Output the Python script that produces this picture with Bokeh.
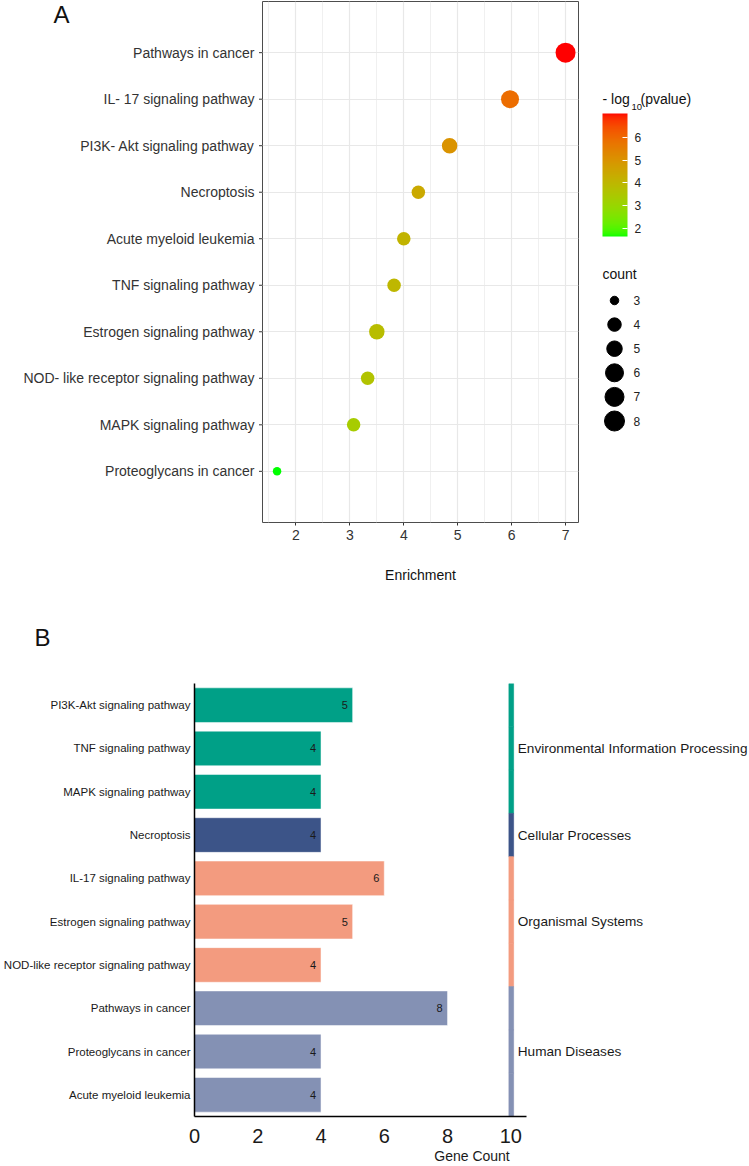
from bokeh.plotting import figure
from bokeh.models import (Range1d, FactorRange, FixedTicker, LinearColorMapper, ColorBar,
                          ColumnDataSource, CategoricalTicker)
from bokeh.transform import transform, factor_cmap, dodge
from bokeh.layouts import column, row
from bokeh.core.properties import value
from bokeh.embed import file_html
from bokeh.resources import INLINE

FONT = "Liberation Sans"

# ---------------- data: panel A ----------------
terms_A = ["Pathways in cancer", "IL- 17 signaling pathway", "PI3K- Akt signaling pathway",
           "Necroptosis", "Acute myeloid leukemia", "TNF signaling pathway",
           "Estrogen signaling pathway", "NOD- like receptor signaling pathway",
           "MAPK signaling pathway", "Proteoglycans in cancer"]
enrich_A = [7.0, 5.97, 4.85, 4.27, 4.0, 3.82, 3.5, 3.33, 3.07, 1.65]
logp_A = [7.04, 5.9, 5.0, 4.4, 4.1, 4.0, 3.8, 3.65, 3.35, 1.65]
count_A = [8, 6, 5, 4, 4, 4, 5, 4, 4, 3]
x_ticks_A = [2, 3, 4, 5, 6, 7]
cbar_ticks = [2, 3, 4, 5, 6]
count_levels = [3, 4, 5, 6, 7, 8]

# ---------------- data: panel B ----------------
terms_B = ["PI3K-Akt signaling pathway", "TNF signaling pathway", "MAPK signaling pathway",
           "Necroptosis", "IL-17 signaling pathway", "Estrogen signaling pathway",
           "NOD-like receptor signaling pathway", "Pathways in cancer",
           "Proteoglycans in cancer", "Acute myeloid leukemia"]
counts_B = [5, 4, 4, 4, 6, 5, 4, 8, 4, 4]
classes = ["Environmental Information Processing", "Cellular Processes",
           "Organismal Systems", "Human Diseases"]
class_B = [classes[0]] * 3 + [classes[1]] + [classes[2]] * 3 + [classes[3]] * 3
class_colors = ["#00A087", "#3C5488", "#F39B7F", "#8491B4"]
x_ticks_B = [0, 2, 4, 6, 8, 10]

# ---------------- styling helpers ----------------
SIZE_BY_COUNT = {3: 8.5, 4: 13.5, 5: 15.5, 6: 18.0, 7: 19.0, 8: 20.0}


def _to_lab(h):
    rgb = [int(h[i:i + 2], 16) / 255 for i in (1, 3, 5)]
    lin = [c / 12.92 if c <= 0.04045 else ((c + 0.055) / 1.055) ** 2.4 for c in rgb]
    R, G, B = lin
    X = (0.4124 * R + 0.3576 * G + 0.1805 * B) / 0.95047
    Y = (0.2126 * R + 0.7152 * G + 0.0722 * B)
    Z = (0.0193 * R + 0.1192 * G + 0.9505 * B) / 1.08883
    f = lambda t: t ** (1 / 3) if t > 0.008856 else 7.787 * t + 16 / 116
    fx, fy, fz = f(X), f(Y), f(Z)
    return (116 * fy - 16, 500 * (fx - fy), 200 * (fy - fz))


def _from_lab(L, a, b):
    fy = (L + 16) / 116
    fx = fy + a / 500
    fz = fy - b / 200
    finv = lambda t: t ** 3 if t ** 3 > 0.008856 else (t - 16 / 116) / 7.787
    X, Y, Z = finv(fx) * 0.95047, finv(fy), finv(fz) * 1.08883
    R = 3.2406 * X - 1.5372 * Y - 0.4986 * Z
    G = -0.9689 * X + 1.8758 * Y + 0.0415 * Z
    B = 0.0557 * X - 0.2040 * Y + 1.0570 * Z
    out = []
    for c in (R, G, B):
        c = max(0.0, min(1.0, c))
        c = 12.92 * c if c <= 0.0031308 else 1.055 * c ** (1 / 2.4) - 0.055
        out.append(int(round(max(0, min(1, c)) * 255)))
    return "#%02x%02x%02x" % tuple(out)


lo, hi = _to_lab("#00FF00"), _to_lab("#FF0000")
palette = [_from_lab(*[lo[k] + (hi[k] - lo[k]) * i / 255 for k in range(3)]) for i in range(256)]
mapper = LinearColorMapper(palette=palette, low=min(logp_A), high=max(logp_A))


def blank(p):
    p.grid.visible = False
    p.outline_line_color = None
    p.frame_align = False


# ---------------- panel A ----------------
PAD_A = 0.6
yA = FactorRange(factors=terms_A[::-1], range_padding=PAD_A, range_padding_units="absolute")

# left strip: category labels + tick marks (on the shared categorical scale), panel letter
pAL = figure(width=262, height=590, output_backend="svg", toolbar_location=None,
             x_range=Range1d(0, 262), y_range=yA,
             x_axis_location=None, y_axis_location=None,
             min_border_left=0, min_border_right=0, min_border_top=1, min_border_bottom=68)
blank(pAL)
pAL.text(x=[254] * len(terms_A), y=terms_A, text=terms_A, text_font=value(FONT),
         text_font_size="14px", text_align="right", text_baseline="middle",
         text_color="#333333")
pAL.segment(x0=[258.5] * len(terms_A), x1=[262] * len(terms_A), y0=terms_A, y1=terms_A,
            line_color="#333333", line_width=1)
# panel letter, just below the top of the padded categorical range
pAL.text(x=[61], y=[len(terms_A) + PAD_A - 0.27], text=["A"], text_font=value(FONT),
         text_font_size="24px", text_align="center", text_baseline="middle",
         text_color="#111111")

srcA = ColumnDataSource(dict(term=terms_A, enrich=enrich_A, logp=logp_A, count=count_A,
                             size=[SIZE_BY_COUNT[c] for c in count_A]))

pA = figure(width=328, height=590, output_backend="svg", toolbar_location=None,
            x_range=Range1d(1.38, 7.24), y_range=yA, y_axis_location=None,
            min_border_left=0, min_border_right=12, min_border_top=1, min_border_bottom=68)
pA.frame_align = False
pA.scatter(x="enrich", y="term", size="size", source=srcA, line_color=None,
           fill_color=transform("logp", mapper))

pA.xaxis.ticker = FixedTicker(ticks=x_ticks_A,
                              minor_ticks=[t + 0.5 for t in [1] + x_ticks_A[:-1]])
pA.xaxis.axis_label = "Enrichment"
ax = pA.xaxis
ax.axis_line_color = None
ax.major_tick_line_color = "#333333"
ax.major_tick_out = 3
ax.major_tick_in = 0
ax.minor_tick_line_color = None
ax.major_label_text_font = FONT
ax.major_label_text_font_size = "14px"
ax.major_label_text_color = "#333333"
ax.major_label_standoff = 3
ax.axis_label_text_font = FONT
ax.axis_label_text_font_size = "14px"
ax.axis_label_text_font_style = "normal"
ax.axis_label_text_color = "#111111"
ax.axis_label_standoff = 24
pA.xgrid.grid_line_color = "#E8E8E8"
pA.xgrid.grid_line_width = 1.2
pA.xgrid.minor_grid_line_color = "#EEEEEE"
pA.xgrid.minor_grid_line_width = 0.9
pA.ygrid.ticker = CategoricalTicker()
pA.ygrid.grid_line_color = "#E8E8E8"
pA.ygrid.grid_line_width = 1.2
pA.outline_line_color = "#4D4D4D"
pA.outline_line_width = 1

# ---------------- panel A legend ----------------
pL = figure(width=159, height=590, output_backend="svg", toolbar_location=None,
            x_range=Range1d(590, 749), y_range=Range1d(590, 0),
            x_axis_location=None, y_axis_location=None,
            min_border_left=0, min_border_right=0, min_border_top=0, min_border_bottom=0)
blank(pL)

pL.text(x=[602, 640], y=[98, 98], text=["- log", "(pvalue)"],
        text_font=value(FONT), text_font_size="14px",
        text_baseline="middle", text_align="left", text_color="#111111")
pL.text(x=[631], y=[106], text=["10"], text_font=value(FONT), text_font_size="9.5px",
        text_baseline="middle", text_align="left", text_color="#111111")

cb = ColorBar(color_mapper=mapper, location=(12, 354), width=25, height=123,
              padding=0, margin=0, title=None,
              ticker=FixedTicker(ticks=cbar_ticks),
              major_label_text_font=FONT, major_label_text_font_size="12px",
              major_label_text_color="#222222",
              major_tick_line_color="white", major_tick_in=5, major_tick_out=0,
              minor_tick_line_color=None, bar_line_color=None, border_line_color=None,
              background_fill_color=None, label_standoff=7)
pL.add_layout(cb)

pL.text(x=[602], y=[273], text=["count"], text_font=value(FONT), text_font_size="14px",
        text_baseline="middle", text_color="#111111")
legY = [300 + 24.1 * i for i in range(len(count_levels))]
pL.scatter(x=[614] * len(count_levels), y=legY,
           size=[SIZE_BY_COUNT[c] for c in count_levels], color="black")
pL.text(x=[633] * len(count_levels), y=legY, text=[str(c) for c in count_levels],
        text_font=value(FONT), text_font_size="12px", text_baseline="middle",
        text_color="#222222")

# ---------------- panel B header strip (panel letter) ----------------
pBT = figure(width=749, height=93, output_backend="svg", toolbar_location=None,
             x_range=Range1d(0, 749), y_range=Range1d(683, 590),
             x_axis_location=None, y_axis_location=None,
             min_border_left=0, min_border_right=0, min_border_top=0, min_border_bottom=0)
blank(pBT)
pBT.text(x=[42], y=[637], text=["B"], text_font=value(FONT), text_font_size="24px",
         text_align="center", text_baseline="middle", text_color="#111111")

# ---------------- panel B ----------------
srcB = ColumnDataSource(dict(term=terms_B, count=counts_B, cls=class_B,
                             label=[str(c) for c in counts_B]))
pB = figure(width=749, height=483, output_backend="svg", toolbar_location=None,
            x_range=Range1d(0, 17.547),
            y_range=FactorRange(factors=terms_B[::-1], range_padding=0),
            min_border_left=191, min_border_right=0, min_border_top=0, min_border_bottom=49)
blank(pB)
cmap = factor_cmap("cls", palette=class_colors, factors=classes)
pB.hbar(y="term", left=0, right="count", height=0.8, source=srcB,
        fill_color=cmap, line_color="white", line_alpha=0.5, line_width=1)
pB.text(x=dodge("count", -0.25), y="term", text="label", source=srcB,
        text_font=value(FONT), text_font_size="11px", text_align="center",
        text_baseline="middle", text_color="#1a1a1a")
pB.hbar(y="term", left=9.94, right=10.09, height=1.0, source=srcB,
        fill_color=cmap, line_color=cmap, line_width=0.6)
mid_terms = []
for c in classes:
    rows = [t for t, k in zip(terms_B, class_B) if k == c]
    mid_terms.append(rows[len(rows) // 2])
pB.text(x=[10.22] * len(classes), y=mid_terms, text=classes, text_font=value(FONT),
        text_font_size="13.6px", text_baseline="middle", text_align="left",
        text_color="#1a1a1a")

pB.xaxis.ticker = FixedTicker(ticks=x_ticks_B)
pB.xaxis.bounds = (0, 10.5)
pB.xaxis.axis_label = "Gene Count"
pB.xaxis.axis_label_text_font = FONT
pB.xaxis.axis_label_text_font_size = "14px"
pB.xaxis.axis_label_text_font_style = "normal"
pB.xaxis.axis_label_text_color = "#1a1a1a"
pB.xaxis.axis_label_standoff = 2
pB.xaxis.major_label_text_font_size = "20px"
pB.xaxis.major_label_standoff = 12
for ax in (pB.xaxis, pB.yaxis):
    ax.axis_line_color = "black"
    ax.axis_line_width = 1.5
    ax.major_tick_line_color = None
    ax.minor_tick_line_color = None
    ax.major_tick_out = 0
    ax.major_tick_in = 0
    ax.major_label_text_font = FONT
    ax.major_label_text_color = "#1a1a1a"
pB.yaxis.major_label_text_font_size = "11.5px"
pB.yaxis.major_label_standoff = 4

layout = column(row(pAL, pA, pL), pBT, pB)
open("out.html", "w").write(file_html(layout, INLINE))
